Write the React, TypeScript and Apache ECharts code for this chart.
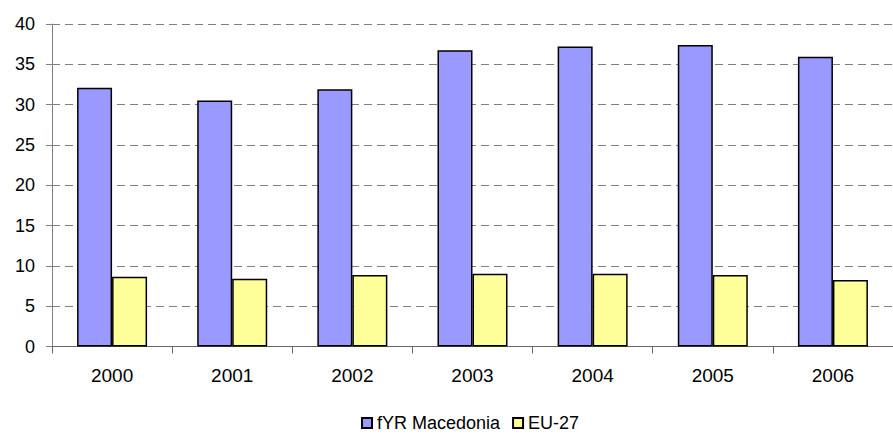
import React, { useEffect, useRef } from "react";
import * as echarts from "echarts";

const categories = ["2000", "2001", "2002", "2003", "2004", "2005", "2006"];
const macedonia = [32.1, 30.5, 31.9, 36.75, 37.2, 37.4, 35.95];
const eu27 = [8.66, 8.41, 8.87, 9.03, 9.03, 8.87, 8.25];
const seriesNames = ["fYR Macedonia", "EU-27"];

const FONT = "Liberation Sans, Arial, sans-serif";

export default function App() {
  const ref = useRef<HTMLDivElement>(null);
  useEffect(() => {
    if (!ref.current) return;
    const chart = echarts.init(ref.current, undefined, { renderer: "svg" });
    chart.setOption({
      animation: false,
      backgroundColor: "#ffffff",
      textStyle: { fontFamily: FONT },
      grid: { left: 52, top: 24, right: -11, bottom: 91.5, containLabel: false },
      legend: {
        left: 356,
        top: 409,
        itemWidth: 10,
        itemHeight: 10,
        itemGap: 12,
        icon: "rect",
        textStyle: { fontFamily: FONT, fontSize: 18, color: "#000" },
        data: seriesNames,
      },
      xAxis: {
        type: "category",
        data: categories,
        axisLine: { lineStyle: { color: "#666666", width: 1 } },
        axisTick: { show: true, length: 7, lineStyle: { color: "#666666" } },
        axisLabel: { fontFamily: FONT, fontSize: 19, color: "#000", margin: 19 },
      },
      yAxis: {
        type: "value",
        min: 0,
        max: 40,
        interval: 5,
        axisLine: { show: true, lineStyle: { color: "#808080", width: 1 } },
        axisTick: { show: true, length: 6, lineStyle: { color: "#808080" } },
        axisLabel: { fontFamily: FONT, fontSize: 18, color: "#000", margin: 17 },
        splitLine: { show: true, lineStyle: { color: "#808080", type: [8, 5], width: 1 } },
      },
      series: [
        {
          name: seriesNames[0],
          type: "bar",
          data: macedonia,
          barWidth: 35,
          barGap: "0%",
          itemStyle: { color: "#9999FF", borderColor: "#000000", borderWidth: 1.5 },
        },
        {
          name: seriesNames[1],
          type: "bar",
          data: eu27,
          barWidth: 35,
          barGap: "0%",
          itemStyle: { color: "#FFFF99", borderColor: "#000000", borderWidth: 1.5 },
        },
      ],
    });
    return () => chart.dispose();
  }, []);
  return <div ref={ref} style={{ width: 893, height: 438, position: "absolute", left: 0, top: 0 }} />;
}
